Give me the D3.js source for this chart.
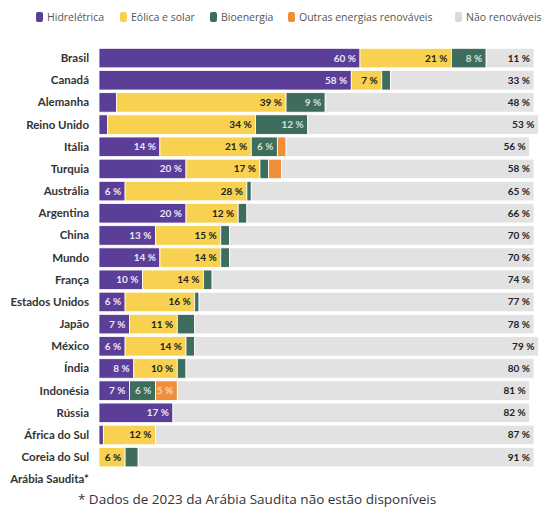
<!DOCTYPE html>
<html lang="pt">
<head>
<meta charset="utf-8">
<script src="https://d3js.org/d3.v7.min.js"></script>
<style>
    body { margin: 0; background: #fff; }
    .country { font-family: Lato, sans-serif; font-size: 11.5px; font-weight: bold; fill: #333; }
    .val { font-family: Lato, sans-serif; font-size: 10px; font-weight: bold; }
    .legend text { font-family: "Open Sans", sans-serif; font-size: 10.5px; fill: #555; }
    .note { font-family: "Open Sans", sans-serif; font-size: 13.5px; fill: #333; }
</style>
</head>
<body>
<div id="chart"></div>
<script>
// dados (% da geração de eletricidade, 2023)
var countries = ["Brasil", "Canadá", "Alemanha", "Reino Unido", "Itália", "Turquia", "Austrália",
    "Argentina", "China", "Mundo", "França", "Estados Unidos", "Japão", "México", "Índia",
    "Indonésia", "Rússia", "África do Sul", "Coreia do Sul", "Arábia Saudita*"];
var hidro     = [60, 58, 4, 2, 14, 20, 6, 20, 13, 14, 10, 6, 7, 6, 8, 7, 17, 1, 0, null];
var eolica    = [21, 7, 39, 34, 21, 17, 28, 12, 15, 14, 14, 16, 11, 14, 10, 0, 0, 12, 6, null];
var bio       = [8, 2, 9, 12, 6, 2, 1, 2, 2, 2, 2, 1, 4, 2, 2, 6, 0, 0, 3, null];
var outras    = [0, 0, 0, 0, 2, 3, 0, 0, 0, 0, 0, 0, 0, 0, 0, 5, 0, 0, 0, null];
var naoRenov  = [11, 33, 48, 53, 56, 58, 65, 66, 70, 70, 74, 77, 78, 79, 80, 81, 82, 87, 91, null];

var keys = ["hidro", "eolica", "bio", "outras", "naoRenov"];
var legendLabels = ["Hidrelétrica", "Eólica e solar", "Bioenergia", "Outras energias renováveis", "Não renováveis"];
var colors = ["#5b3e98", "#f8d150", "#3f6d5d", "#ef8f3b", "#e2e2e2"];
var labelColors = ["#ece6f7", "#222", "#d2e0d8", "#fbd9bc", "#222"];

var W = 547, H = 509;

var rows = countries.map(function(c, i) {
    return { country: c, hidro: hidro[i], eolica: eolica[i], bio: bio[i], outras: outras[i], naoRenov: naoRenov[i] };
});

var svg = d3.select("#chart").append("svg")
    .attr("width", W)
    .attr("height", H);

var x = d3.scaleLinear().domain([0, 100]).range([99, 534]);
var y = d3.scaleBand()
    .domain(countries)
    .range([47, 490.4])
    .paddingInner(0.12)
    .paddingOuter(0.06);

var color = d3.scaleOrdinal().domain(keys).range(colors);
var labelColor = d3.scaleOrdinal().domain(keys).range(labelColors);

var withData = rows.filter(function(d) { return d.hidro !== null; });
var stacked = d3.stack().keys(keys)(withData);

// barras
var layer = svg.append("g").selectAll("g")
    .data(stacked)
    .enter().append("g")
    .attr("fill", function(d) { return color(d.key); });

layer.selectAll("rect")
    .data(function(d) { return d.filter(function(s) { return s[1] > s[0]; }); })
    .enter().append("rect")
    .attr("x", function(d) { return x(d[0]); })
    .attr("y", function(d) { return y(d.data.country); })
    .attr("width", function(d) { return x(d[1]) - x(d[0]); })
    .attr("height", y.bandwidth())
    .attr("stroke", "#fff")
    .attr("stroke-width", 0.8);

// rótulos de valores (>= 5 %)
layer.each(function(L) {
    d3.select(this).selectAll("text")
        .data(L.filter(function(s) { return s[1] - s[0] >= 5; }))
        .enter().append("text")
        .attr("class", "val")
        .attr("x", function(d) { return x(d[1]) - 4; })
        .attr("y", function(d) { return y(d.data.country) + y.bandwidth() / 2; })
        .attr("dy", "0.35em")
        .attr("text-anchor", "end")
        .attr("fill", labelColor(L.key))
        .text(function(d) { return (d[1] - d[0]) + " %"; });
});

// países
svg.append("g").selectAll("text")
    .data(countries)
    .enter().append("text")
    .attr("class", "country")
    .attr("x", 89)
    .attr("y", function(d) { return y(d) + y.bandwidth() / 2; })
    .attr("dy", "0.35em")
    .attr("text-anchor", "end")
    .text(function(d) { return d; });

// legenda
var legendX = [36, 120, 210, 288, 455];
var legend = svg.selectAll(".legend")
    .data(keys)
    .enter().append("g")
    .attr("class", "legend")
    .attr("transform", function(d, i) { return "translate(" + legendX[i] + ",17)"; });

legend.append("rect")
    .attr("x", 0)
    .attr("y", -5)
    .attr("width", 7)
    .attr("height", 10)
    .attr("rx", 2)
    .attr("fill", function(d) { return d === "naoRenov" ? "#d9d9d9" : color(d); });

legend.append("text")
    .attr("x", 11)
    .attr("dy", "0.35em")
    .text(function(d, i) { return legendLabels[i]; });

// nota
svg.append("text")
    .attr("class", "note")
    .attr("x", 257)
    .attr("y", 504)
    .attr("text-anchor", "middle")
    .text("* Dados de 2023 da Arábia Saudita não estão disponíveis");
</script>
</body>
</html>
